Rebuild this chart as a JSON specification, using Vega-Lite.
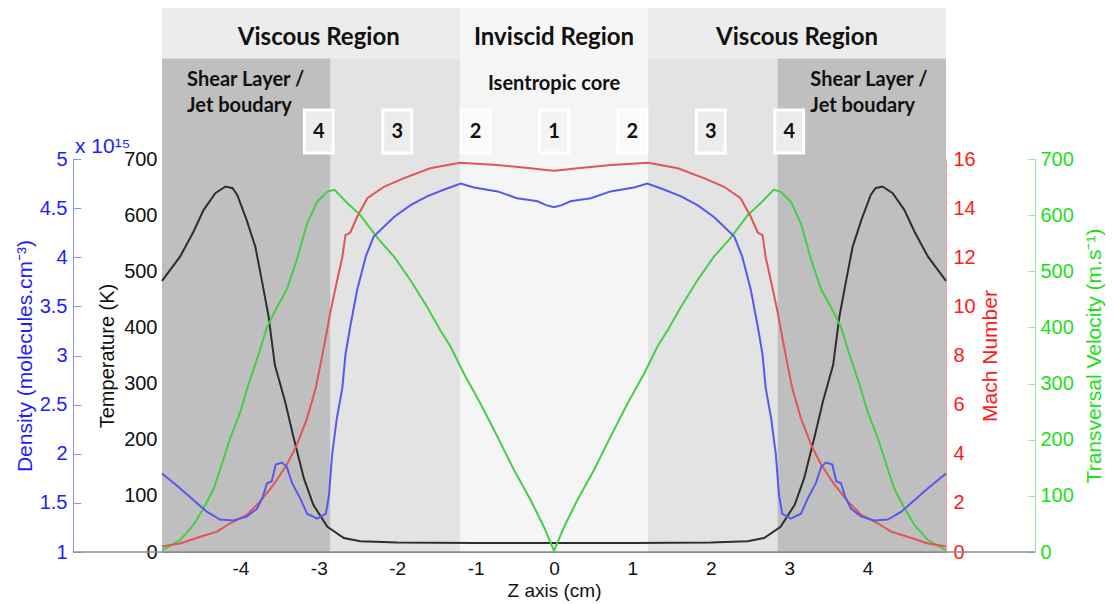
{
  "$schema": "https://vega.github.io/schema/vega-lite/v6.json",
  "padding": {"left": 14, "top": 8, "right": 5, "bottom": 2},
  "background": "white",
  "spacing": 0,
  "bounds": "flush",
  "config": {
    "font": "Liberation Sans",
    "view": {"stroke": null},
    "axis": {"grid": false, "labelFlush": false, "labelOverlap": false, "labelFont": "Liberation Sans", "titleFont": "Liberation Sans", "titleFontWeight": "normal"}
  },
  "datasets": {
    "regions": [
      {"x1": -5, "x2": -2.85, "zone": "Shear"},
      {"x1": -2.85, "x2": -1.2, "zone": "Mixing"},
      {"x1": -1.2, "x2": 1.2, "zone": "Core"},
      {"x1": 1.2, "x2": 2.85, "zone": "Mixing"},
      {"x1": 2.85, "x2": 5, "zone": "Shear"}
    ],
    "header": [
      {"x1": -5, "x2": -1.2, "zone": "Viscous"},
      {"x1": -1.2, "x2": 1.2, "zone": "Inviscid"},
      {"x1": 1.2, "x2": 5, "zone": "Viscous"}
    ],
    "headerLabels": [
      {"z": -3.0, "label": "Viscous Region"},
      {"z": 0, "label": "Inviscid Region"},
      {"z": 3.1, "label": "Viscous Region"}
    ],
    "shearLabels": [
      {"z": -4.68, "label": "Shear Layer /\nJet boudary"},
      {"z": 3.27, "label": "Shear Layer /\nJet boudary"}
    ],
    "coreLabel": [{"z": 0, "label": "Isentropic core"}],
    "markers": [
      {"z": -3, "n": "4"}, {"z": -2, "n": "3"}, {"z": -1, "n": "2"}, {"z": 0, "n": "1"},
      {"z": 1, "n": "2"}, {"z": 2, "n": "3"}, {"z": 3, "n": "4"}
    ],
    "temperature": [
      {"z": -5, "v": 483}, {"z": -4.77, "v": 526}, {"z": -4.6, "v": 570}, {"z": -4.47, "v": 609}, {"z": -4.32, "v": 639}, {"z": -4.19, "v": 651}, {"z": -4.1, "v": 648}, {"z": -4.04, "v": 636}, {"z": -3.92, "v": 591}, {"z": -3.81, "v": 544}, {"z": -3.72, "v": 479}, {"z": -3.64, "v": 419}, {"z": -3.56, "v": 333}, {"z": -3.43, "v": 268}, {"z": -3.32, "v": 203}, {"z": -3.19, "v": 131}, {"z": -3.07, "v": 84}, {"z": -2.89, "v": 45}, {"z": -2.68, "v": 25}, {"z": -2.47, "v": 19}, {"z": -2, "v": 17}, {"z": -1, "v": 16}, {"z": 0, "v": 16},
      {"z": 1, "v": 16}, {"z": 2, "v": 17}, {"z": 2.47, "v": 19}, {"z": 2.68, "v": 25}, {"z": 2.89, "v": 45}, {"z": 3.07, "v": 84}, {"z": 3.19, "v": 131}, {"z": 3.32, "v": 203}, {"z": 3.43, "v": 268}, {"z": 3.56, "v": 333}, {"z": 3.64, "v": 419}, {"z": 3.72, "v": 479}, {"z": 3.81, "v": 544}, {"z": 3.92, "v": 591}, {"z": 4.04, "v": 636}, {"z": 4.1, "v": 648}, {"z": 4.19, "v": 651}, {"z": 4.32, "v": 639}, {"z": 4.47, "v": 609}, {"z": 4.6, "v": 570}, {"z": 4.77, "v": 526}, {"z": 5, "v": 483}
    ],
    "density": [
      {"z": -5, "v": 1.8}, {"z": -4.77, "v": 1.65}, {"z": -4.6, "v": 1.53}, {"z": -4.43, "v": 1.41}, {"z": -4.26, "v": 1.33}, {"z": -4.09, "v": 1.32}, {"z": -3.92, "v": 1.36}, {"z": -3.79, "v": 1.44}, {"z": -3.72, "v": 1.55}, {"z": -3.66, "v": 1.7}, {"z": -3.6, "v": 1.72}, {"z": -3.55, "v": 1.89}, {"z": -3.47, "v": 1.91}, {"z": -3.41, "v": 1.87}, {"z": -3.34, "v": 1.7}, {"z": -3.24, "v": 1.55}, {"z": -3.15, "v": 1.39}, {"z": -3.02, "v": 1.34}, {"z": -2.91, "v": 1.39}, {"z": -2.87, "v": 1.58}, {"z": -2.83, "v": 1.99}, {"z": -2.77, "v": 2.36}, {"z": -2.7, "v": 2.67}, {"z": -2.66, "v": 3.01}, {"z": -2.6, "v": 3.29}, {"z": -2.51, "v": 3.67}, {"z": -2.4, "v": 4.01}, {"z": -2.3, "v": 4.21}, {"z": -2.17, "v": 4.31}, {"z": -2.04, "v": 4.41}, {"z": -1.83, "v": 4.53}, {"z": -1.62, "v": 4.62}, {"z": -1.4, "v": 4.69}, {"z": -1.19, "v": 4.75}, {"z": -1.02, "v": 4.71}, {"z": -0.72, "v": 4.67}, {"z": -0.47, "v": 4.6}, {"z": -0.21, "v": 4.57}, {"z": -0.1, "v": 4.53}, {"z": 0, "v": 4.51},
      {"z": 0.1, "v": 4.53}, {"z": 0.21, "v": 4.57}, {"z": 0.47, "v": 4.6}, {"z": 0.72, "v": 4.67}, {"z": 1.02, "v": 4.71}, {"z": 1.19, "v": 4.75}, {"z": 1.4, "v": 4.69}, {"z": 1.62, "v": 4.62}, {"z": 1.83, "v": 4.53}, {"z": 2.04, "v": 4.41}, {"z": 2.17, "v": 4.31}, {"z": 2.3, "v": 4.21}, {"z": 2.4, "v": 4.01}, {"z": 2.51, "v": 3.67}, {"z": 2.6, "v": 3.29}, {"z": 2.66, "v": 3.01}, {"z": 2.7, "v": 2.67}, {"z": 2.77, "v": 2.36}, {"z": 2.83, "v": 1.99}, {"z": 2.87, "v": 1.58}, {"z": 2.91, "v": 1.39}, {"z": 3.02, "v": 1.34}, {"z": 3.15, "v": 1.39}, {"z": 3.24, "v": 1.55}, {"z": 3.34, "v": 1.7}, {"z": 3.41, "v": 1.87}, {"z": 3.47, "v": 1.91}, {"z": 3.55, "v": 1.89}, {"z": 3.6, "v": 1.72}, {"z": 3.66, "v": 1.7}, {"z": 3.72, "v": 1.55}, {"z": 3.79, "v": 1.44}, {"z": 3.92, "v": 1.36}, {"z": 4.09, "v": 1.32}, {"z": 4.26, "v": 1.33}, {"z": 4.43, "v": 1.41}, {"z": 4.6, "v": 1.53}, {"z": 4.77, "v": 1.65}, {"z": 5, "v": 1.8}
    ],
    "mach": [
      {"z": -5, "v": 0.22}, {"z": -4.77, "v": 0.35}, {"z": -4.51, "v": 0.62}, {"z": -4.3, "v": 0.83}, {"z": -4.13, "v": 1.17}, {"z": -3.92, "v": 1.51}, {"z": -3.75, "v": 2.05}, {"z": -3.58, "v": 2.73}, {"z": -3.41, "v": 3.54}, {"z": -3.28, "v": 4.36}, {"z": -3.15, "v": 5.44}, {"z": -3.04, "v": 6.66}, {"z": -2.98, "v": 7.61}, {"z": -2.92, "v": 8.6}, {"z": -2.85, "v": 9.8}, {"z": -2.77, "v": 11.0}, {"z": -2.7, "v": 12.0}, {"z": -2.66, "v": 12.9}, {"z": -2.6, "v": 13.0}, {"z": -2.51, "v": 13.65}, {"z": -2.38, "v": 14.4}, {"z": -2.17, "v": 14.87}, {"z": -1.92, "v": 15.21}, {"z": -1.58, "v": 15.62}, {"z": -1.2, "v": 15.85}, {"z": -0.73, "v": 15.76}, {"z": -0.3, "v": 15.62}, {"z": -0.1, "v": 15.55}, {"z": 0, "v": 15.52},
      {"z": 0.1, "v": 15.55}, {"z": 0.3, "v": 15.62}, {"z": 0.73, "v": 15.76}, {"z": 1.2, "v": 15.85}, {"z": 1.58, "v": 15.62}, {"z": 1.92, "v": 15.21}, {"z": 2.17, "v": 14.87}, {"z": 2.38, "v": 14.4}, {"z": 2.51, "v": 13.65}, {"z": 2.6, "v": 13.0}, {"z": 2.66, "v": 12.9}, {"z": 2.7, "v": 12.0}, {"z": 2.77, "v": 11.0}, {"z": 2.85, "v": 9.8}, {"z": 2.92, "v": 8.6}, {"z": 2.98, "v": 7.61}, {"z": 3.04, "v": 6.66}, {"z": 3.15, "v": 5.44}, {"z": 3.28, "v": 4.36}, {"z": 3.41, "v": 3.54}, {"z": 3.58, "v": 2.73}, {"z": 3.75, "v": 2.05}, {"z": 3.92, "v": 1.51}, {"z": 4.13, "v": 1.17}, {"z": 4.3, "v": 0.83}, {"z": 4.51, "v": 0.62}, {"z": 4.77, "v": 0.35}, {"z": 5, "v": 0.22}
    ],
    "velocity": [
      {"z": -5, "v": 3}, {"z": -4.77, "v": 21}, {"z": -4.6, "v": 48}, {"z": -4.47, "v": 78}, {"z": -4.34, "v": 113}, {"z": -4.24, "v": 155}, {"z": -4.13, "v": 203}, {"z": -4.0, "v": 250}, {"z": -3.9, "v": 297}, {"z": -3.77, "v": 351}, {"z": -3.66, "v": 401}, {"z": -3.53, "v": 437}, {"z": -3.41, "v": 467}, {"z": -3.28, "v": 520}, {"z": -3.15, "v": 585}, {"z": -3.02, "v": 624}, {"z": -2.89, "v": 642}, {"z": -2.8, "v": 645}, {"z": -2.64, "v": 622}, {"z": -2.47, "v": 600}, {"z": -2.25, "v": 559}, {"z": -2.04, "v": 526}, {"z": -1.83, "v": 484}, {"z": -1.62, "v": 437}, {"z": -1.45, "v": 395}, {"z": -1.32, "v": 366}, {"z": -1.15, "v": 318}, {"z": -0.94, "v": 265}, {"z": -0.72, "v": 205}, {"z": -0.51, "v": 146}, {"z": -0.3, "v": 93}, {"z": -0.13, "v": 45}, {"z": 0, "v": 2},
      {"z": 0.13, "v": 45}, {"z": 0.3, "v": 93}, {"z": 0.51, "v": 146}, {"z": 0.72, "v": 205}, {"z": 0.94, "v": 265}, {"z": 1.15, "v": 318}, {"z": 1.32, "v": 366}, {"z": 1.45, "v": 395}, {"z": 1.62, "v": 437}, {"z": 1.83, "v": 484}, {"z": 2.04, "v": 526}, {"z": 2.25, "v": 559}, {"z": 2.47, "v": 600}, {"z": 2.64, "v": 622}, {"z": 2.8, "v": 645}, {"z": 2.89, "v": 642}, {"z": 3.02, "v": 624}, {"z": 3.15, "v": 585}, {"z": 3.28, "v": 520}, {"z": 3.41, "v": 467}, {"z": 3.53, "v": 437}, {"z": 3.66, "v": 401}, {"z": 3.77, "v": 351}, {"z": 3.9, "v": 297}, {"z": 4.0, "v": 250}, {"z": 4.13, "v": 203}, {"z": 4.24, "v": 155}, {"z": 4.34, "v": 113}, {"z": 4.47, "v": 78}, {"z": 4.6, "v": 48}, {"z": 4.77, "v": 21}, {"z": 5, "v": 3}
    ]
  },
  "vconcat": [
    {
      "width": 784,
      "height": 151,
      "layer": [
        {
          "data": {"name": "regions"},
          "mark": {"type": "rect"},
          "encoding": {
            "x": {"field": "x1", "type": "quantitative", "scale": {"domain": [-5, 5], "nice": false, "zero": false}, "axis": null},
            "x2": {"field": "x2"},
            "y": {"datum": 0, "type": "quantitative", "scale": {"domain": [0, 1.5], "nice": false}, "axis": null},
            "y2": {"datum": 1},
            "color": {"field": "zone", "type": "nominal", "scale": {"domain": ["Shear", "Mixing", "Core", "Viscous", "Inviscid"], "range": ["#bfbfbf", "#e3e3e3", "#f5f5f5", "#ececec", "#f6f6f6"]}, "legend": null}
          }
        },
        {
          "data": {"name": "header"},
          "mark": {"type": "rect"},
          "encoding": {
            "x": {"field": "x1", "type": "quantitative", "scale": {"domain": [-5, 5], "nice": false, "zero": false}, "axis": null},
            "x2": {"field": "x2"},
            "y": {"datum": 1, "type": "quantitative", "scale": {"domain": [0, 1.5], "nice": false}, "axis": null},
            "y2": {"datum": 1.5},
            "color": {"field": "zone", "type": "nominal", "scale": {"domain": ["Shear", "Mixing", "Core", "Viscous", "Inviscid"], "range": ["#bfbfbf", "#e3e3e3", "#f5f5f5", "#ececec", "#f6f6f6"]}, "legend": null}
          }
        },
        {
          "data": {"name": "headerLabels"},
          "mark": {"type": "text", "font": "Lato", "fontWeight": "bold", "fontSize": 24, "color": "#111111", "baseline": "middle"},
          "encoding": {
            "x": {"field": "z", "type": "quantitative", "scale": {"domain": [-5, 5], "nice": false, "zero": false}, "axis": null},
            "y": {"datum": 1.2, "type": "quantitative", "scale": {"domain": [0, 1.5], "nice": false}, "axis": null},
            "text": {"field": "label"}
          }
        },
        {
          "data": {"name": "shearLabels"},
          "mark": {"type": "text", "font": "Lato", "fontWeight": "bold", "fontSize": 20, "color": "#111111", "align": "left", "baseline": "middle", "lineBreak": "\n", "lineHeight": 26},
          "encoding": {
            "x": {"field": "z", "type": "quantitative", "scale": {"domain": [-5, 5], "nice": false, "zero": false}, "axis": null},
            "y": {"datum": 0.78, "type": "quantitative", "scale": {"domain": [0, 1.5], "nice": false}, "axis": null},
            "text": {"field": "label"}
          }
        },
        {
          "data": {"name": "coreLabel"},
          "mark": {"type": "text", "font": "Lato", "fontWeight": "bold", "fontSize": 20, "color": "#111111", "align": "center", "baseline": "middle"},
          "encoding": {
            "x": {"field": "z", "type": "quantitative", "scale": {"domain": [-5, 5], "nice": false, "zero": false}, "axis": null},
            "y": {"datum": 0.745, "type": "quantitative", "scale": {"domain": [0, 1.5], "nice": false}, "axis": null},
            "text": {"field": "label"}
          }
        },
        {
          "data": {"name": "markers"},
          "mark": {"type": "point", "shape": "M-0.67,-1H0.67V1H-0.67Z", "size": 1849, "filled": true, "opacity": 1, "stroke": "white", "strokeWidth": 3},
          "encoding": {
            "x": {"field": "z", "type": "quantitative", "scale": {"domain": [-5, 5], "nice": false, "zero": false}, "axis": null},
            "y": {"datum": 0.273, "type": "quantitative", "scale": {"domain": [0, 1.5], "nice": false}, "axis": null},
            "fill": {"field": "n", "type": "nominal", "scale": {"domain": ["1", "2", "3", "4"], "range": ["#f4f4f4", "#fafafa", "#ececec", "#ececec"]}, "legend": null}
          }
        },
        {
          "data": {"name": "markers"},
          "mark": {"type": "text", "font": "Lato", "fontWeight": "bold", "fontSize": 20, "color": "#111111", "baseline": "middle"},
          "encoding": {
            "x": {"field": "z", "type": "quantitative", "scale": {"domain": [-5, 5], "nice": false, "zero": false}, "axis": null},
            "y": {"datum": 0.273, "type": "quantitative", "scale": {"domain": [0, 1.5], "nice": false}, "axis": null},
            "text": {"field": "n"}
          }
        },
        {
          "data": {"values": [{"label": "x 10¹⁵", "z": -5}]},
          "mark": {"type": "text", "align": "left", "baseline": "alphabetic", "dx": -87, "fontSize": 21, "color": "#1e1eff", "font": "Liberation Sans"},
          "encoding": {
            "x": {"field": "z", "type": "quantitative", "scale": {"domain": [-5, 5], "nice": false, "zero": false}, "axis": null},
            "y": {"datum": 0.06, "type": "quantitative", "scale": {"domain": [0, 1.5], "nice": false}, "axis": null},
            "text": {"field": "label"}
          }
        }
      ]
    },
    {
      "width": 784,
      "height": 393,
      "layer": [
        {
          "data": {"name": "regions"},
          "mark": {"type": "rect"},
          "encoding": {
            "x": {"field": "x1", "type": "quantitative", "title": "Z axis (cm)", "scale": {"domain": [-5, 5], "nice": false, "zero": false},
                  "axis": {"values": [-4, -3, -2, -1, 0, 1, 2, 3, 4], "labelExpr": "'' + datum.value", "tickSize": -6, "labelPadding": 13, "domainColor": "#8c8c8c", "tickColor": "#8c8c8c", "labelColor": "#111111", "titleColor": "#111111", "labelFontSize": 19, "titleFontSize": 19, "titlePadding": 3}},
            "x2": {"field": "x2"},
            "color": {"field": "zone", "type": "nominal", "scale": {"domain": ["Shear", "Mixing", "Core", "Viscous", "Inviscid"], "range": ["#bfbfbf", "#e3e3e3", "#f5f5f5", "#ececec", "#f6f6f6"]}, "legend": null}
          }
        },
        {
          "data": {"values": [{"a": -6.135, "b": 6.135}]},
          "mark": {"type": "rule", "color": "#8c8c8c", "strokeWidth": 1.5},
          "encoding": {
            "x": {"field": "a", "type": "quantitative", "title": "Z axis (cm)", "scale": {"domain": [-5, 5], "nice": false, "zero": false}},
            "x2": {"field": "b"},
            "y": {"value": "height"}
          }
        },
        {
          "data": {"name": "temperature"},
          "mark": {"type": "line", "color": "#2e2e2e", "strokeWidth": 2},
          "encoding": {
            "x": {"field": "z", "type": "quantitative", "title": "Z axis (cm)", "scale": {"domain": [-5, 5], "nice": false, "zero": false}},
            "y": {"field": "v", "type": "quantitative", "scale": {"domain": [0, 700], "nice": false},
                  "axis": {"orient": "left", "offset": 0, "values": [0, 100, 200, 300, 400, 500, 600, 700], "title": "Temperature (K)", "tickSize": -6, "labelPadding": 11, "titlePadding": 6, "domainColor": "#8c8c8c", "tickColor": "#8c8c8c", "labelColor": "#111111", "titleColor": "#111111", "labelFontSize": 20, "titleFontSize": 20}}
          }
        },
        {
          "data": {"name": "velocity"},
          "mark": {"type": "line", "color": "#45cf45", "strokeWidth": 2},
          "encoding": {
            "x": {"field": "z", "type": "quantitative", "title": "Z axis (cm)", "scale": {"domain": [-5, 5], "nice": false, "zero": false}},
            "y": {"field": "v", "type": "quantitative", "scale": {"domain": [0, 700], "nice": false},
                  "axis": {"orient": "right", "offset": 89, "values": [0, 100, 200, 300, 400, 500, 600, 700], "title": "Transversal Velocity (m.s⁻¹)", "titleAngle": 270, "titleBaseline": "top", "tickSize": -7, "labelPadding": 12, "titlePadding": 10, "domainColor": "#90e890", "tickColor": "#90e890", "labelColor": "#1adf1a", "titleColor": "#1adf1a", "labelFontSize": 20, "titleFontSize": 21}}
          }
        },
        {
          "data": {"name": "mach"},
          "mark": {"type": "line", "color": "#e25555", "strokeWidth": 2},
          "encoding": {
            "x": {"field": "z", "type": "quantitative", "title": "Z axis (cm)", "scale": {"domain": [-5, 5], "nice": false, "zero": false}},
            "y": {"field": "v", "type": "quantitative", "scale": {"domain": [0, 16], "nice": false},
                  "axis": {"orient": "right", "offset": 0, "values": [0, 2, 4, 6, 8, 10, 12, 14, 16], "title": "Mach Number", "titleAngle": 270, "titleBaseline": "top", "tickSize": -6, "labelPadding": 13, "titlePadding": 4, "domainColor": "#ff9a9a", "tickColor": "#ff9a9a", "labelColor": "#ff1a1a", "titleColor": "#ff1a1a", "labelFontSize": 20, "titleFontSize": 21}}
          }
        },
        {
          "data": {"name": "density"},
          "mark": {"type": "line", "color": "#5858ee", "strokeWidth": 2},
          "encoding": {
            "x": {"field": "z", "type": "quantitative", "title": "Z axis (cm)", "scale": {"domain": [-5, 5], "nice": false, "zero": false}},
            "y": {"field": "v", "type": "quantitative", "scale": {"domain": [1, 5], "nice": false, "zero": false},
                  "axis": {"orient": "left", "offset": 89, "values": [1, 1.5, 2, 2.5, 3, 3.5, 4, 4.5, 5], "format": "~g", "title": "Density (molecules.cm⁻³)", "tickSize": -8, "labelPadding": 14, "titlePadding": 4, "domainColor": "#9090ff", "tickColor": "#9090ff", "labelColor": "#1e1eff", "titleColor": "#1e1eff", "labelFontSize": 20, "titleFontSize": 21}}
          }
        }
      ],
      "resolve": {"scale": {"y": "independent"}, "axis": {"y": "independent"}}
    }
  ]
}
